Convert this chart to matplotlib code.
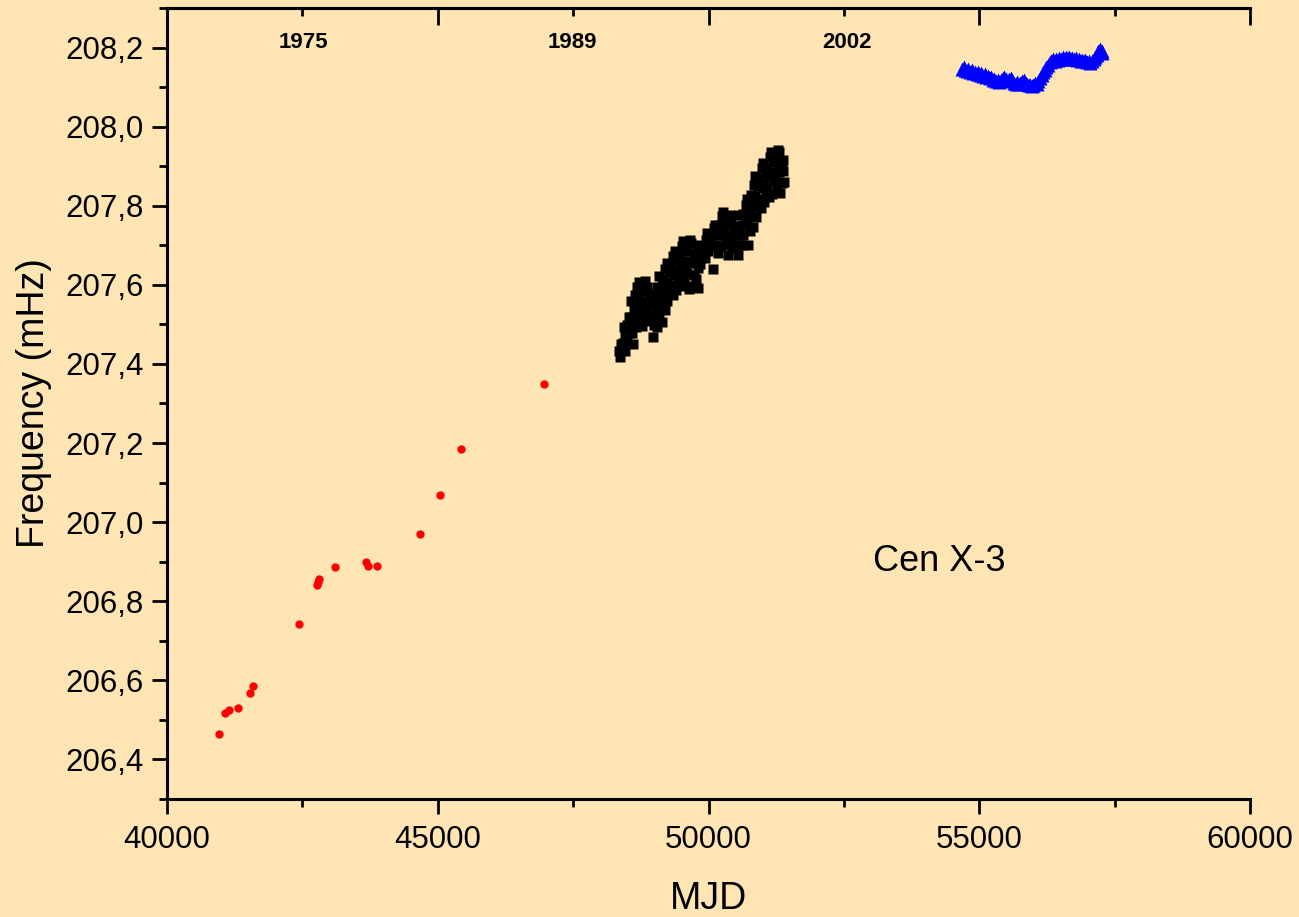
import matplotlib
matplotlib.use('Agg')
from matplotlib import pyplot as plt
from matplotlib.ticker import MultipleLocator, FuncFormatter

plt.rcParams['font.family'] = ['Liberation Sans', 'DejaVu Sans']

# historic pulse-frequency measurements (red dots)
early_mjd = [40961, 41072, 41151, 41312, 41534, 41583, 42433, 42766, 42785, 42803,
             43110, 43671, 43720, 43875, 44675, 45044, 45432, 46966]
early_freq = [206.465, 206.518, 206.524, 206.531, 206.568, 206.585, 206.742, 206.842,
              206.849, 206.857, 206.886, 206.899, 206.890, 206.890, 206.969, 207.068,
              207.184, 207.348]

# BATSE-era measurements (black squares)
batse_mjd = [
    48385, 48352, 48371,
    48431, 48466, 48418, 48459,
    48537, 48495, 48541, 48502,
    48571, 48623, 48566, 48614, 48579, 48610,
    48688, 48649, 48697, 48641, 48683, 48655,
    48721, 48771, 48715, 48762, 48727, 48779,
    48833, 48791, 48842, 48799, 48829,
    48866, 48915, 48871, 48909,
    48941, 48989, 48935, 48992, 48980,
    49057, 49011, 49063, 49019, 49052,
    49087, 49136, 49081, 49129, 49094, 49140,
    49205, 49161, 49214, 49168, 49199,
    49231, 49284, 49239, 49279, 49227,
    49352, 49307, 49361, 49311, 49349,
    49384, 49431, 49378, 49427, 49391,
    49503, 49457, 49509, 49462, 49496,
    49530, 49581, 49527, 49573, 49538,
    49652, 49606, 49645, 49611, 49640,
    49680, 49726, 49677, 49731, 49688,
    49797, 49754, 49802, 49760,
    49826, 49872, 49835, 49812,
    49948, 49903, 49941,
    49975, 50023, 49981,
    50094, 50049, 50099, 50090,
    50121, 50168, 50129, 50171,
    50241, 50196, 50247, 50203,
    50270, 50315, 50267, 50319,
    50389, 50343, 50394, 50351, 50366,
    50417, 50463, 50421, 50459,
    50537, 50491, 50541, 50550,
    50566, 50611, 50563, 50616,
    50685, 50640, 50689, 50645,
    50714, 50759, 50711, 50762, 50721,
    50833, 50789, 50837, 50784, 50826,
    50862, 50907, 50859, 50911, 50871,
    50981, 50935, 50986, 50930, 50975,
    51009, 51054, 51006, 51057, 51017,
    51128, 51083, 51131, 51079, 51122,
    51157, 51201, 51152, 51206, 51164,
    51276, 51231, 51279, 51227, 51270,
    51305, 51349, 51302, 51352, 51311,
    51384, 51370, 51392,
]
batse_freq = [
    207.451, 207.433, 207.418,
    207.494, 207.474, 207.453, 207.433,
    207.519, 207.499, 207.479, 207.459,
    207.559, 207.539, 207.519, 207.499, 207.479, 207.450,
    207.595, 207.575, 207.555, 207.534, 207.514, 207.494,
    207.607, 207.587, 207.564, 207.542, 207.519, 207.496,
    207.610, 207.585, 207.559, 207.534, 207.509,
    207.595, 207.570, 207.544, 207.519,
    207.577, 207.549, 207.524, 207.499, 207.469,
    207.595, 207.570, 207.544, 207.519, 207.494,
    207.622, 207.597, 207.572, 207.547, 207.521, 207.506,
    207.640, 207.615, 207.589, 207.564, 207.537,
    207.655, 207.632, 207.607, 207.582, 207.559,
    207.673, 207.650, 207.625, 207.600, 207.574,
    207.685, 207.663, 207.637, 207.612, 207.587,
    207.698, 207.675, 207.650, 207.625, 207.597,
    207.711, 207.685, 207.660, 207.635, 207.610,
    207.713, 207.688, 207.660, 207.630, 207.589,
    207.706, 207.680, 207.655, 207.625, 207.597,
    207.693, 207.668, 207.643, 207.615,
    207.701, 207.678, 207.653, 207.592,
    207.713, 207.690, 207.668,
    207.731, 207.708, 207.685,
    207.743, 207.721, 207.698, 207.640,
    207.751, 207.726, 207.701, 207.680,
    207.774, 207.751, 207.726, 207.698,
    207.784, 207.761, 207.736, 207.706,
    207.776, 207.751, 207.726, 207.701, 207.675,
    207.761, 207.738, 207.713, 207.693,
    207.748, 207.726, 207.701, 207.675,
    207.776, 207.751, 207.726, 207.701,
    207.802, 207.779, 207.754, 207.726,
    207.817, 207.791, 207.766, 207.736, 207.701,
    207.852, 207.827, 207.802, 207.776, 207.746,
    207.875, 207.849, 207.824, 207.799, 207.771,
    207.895, 207.870, 207.844, 207.817, 207.794,
    207.907, 207.882, 207.857, 207.832, 207.809,
    207.923, 207.897, 207.872, 207.847, 207.822,
    207.935, 207.910, 207.885, 207.861, 207.830,
    207.941, 207.915, 207.890, 207.865, 207.837,
    207.935, 207.910, 207.885, 207.857, 207.832,
    207.915, 207.887, 207.861,
]

# Fermi/GBM-era measurements (blue triangles)
gbm_mjd = [54680, 54710, 54740, 54770, 54800, 54830, 54860, 54890, 54920, 54950,
           54980, 55010, 55040, 55070, 55100, 55130, 55160, 55190, 55220, 55250,
           55280, 55310, 55340, 55370, 55400, 55430, 55460, 55490, 55520, 55550,
           55580, 55610, 55640, 55670, 55700, 55730, 55760, 55790, 55820, 55850,
           55880, 55910, 55940, 55970, 56000, 56030, 56060, 56090, 56120, 56150,
           56180, 56210, 56240, 56270, 56300, 56330, 56360, 56390, 56420, 56450,
           56480, 56510, 56540, 56570, 56600, 56630, 56660, 56690, 56720, 56750,
           56780, 56810, 56840, 56870, 56900, 56930, 56960, 56990, 57020, 57050,
           57080, 57110, 57140, 57170, 57200, 57230, 57260, 57275]
gbm_freq = [208.146, 208.150, 208.143, 208.140, 208.145, 208.138, 208.142, 208.135,
            208.139, 208.133, 208.137, 208.131, 208.136, 208.129, 208.132, 208.126,
            208.129, 208.122, 208.125, 208.118, 208.121, 208.116, 208.119, 208.114,
            208.118, 208.122, 208.126, 208.121, 208.116, 208.120, 208.124, 208.117,
            208.111, 208.108, 208.112, 208.107, 208.110, 208.115, 208.119, 208.114,
            208.108, 208.104, 208.106, 208.103, 208.105, 208.110, 208.108, 208.116,
            208.122, 208.130, 208.137, 208.144, 208.150, 208.156, 208.163, 208.167,
            208.170, 208.167, 208.171, 208.168, 208.173, 208.170, 208.175, 208.171,
            208.177, 208.173, 208.176, 208.171, 208.174, 208.170, 208.173, 208.168,
            208.171, 208.166, 208.169, 208.165, 208.168, 208.163, 208.166, 208.162,
            208.166, 208.170, 208.175, 208.182, 208.190, 208.196, 208.192, 208.186]

year_labels = ['1975', '1989', '2002']
year_mjd = [42510, 47490, 52560]

bg = '#FFE5B4'

fig = plt.figure(figsize=(12.99, 9.17), dpi=100, facecolor=bg)
ax = fig.add_axes([0.1286, 0.1287, 0.8337, 0.8626])
ax.set_facecolor(bg)

ax.plot(early_mjd, early_freq, 'o', color='red', ms=6, mec='none')
ax.plot(batse_mjd, batse_freq, 's', color='black', ms=6.7, mec='none')
ax.plot(gbm_mjd, gbm_freq, '^', color='blue', ms=10.5, mec='none')

ax.set_xlim(40000, 60000)
ax.set_ylim(206.3, 208.3)

ax.xaxis.set_major_locator(MultipleLocator(5000))
ax.xaxis.set_minor_locator(MultipleLocator(2500))
ax.yaxis.set_major_locator(MultipleLocator(0.2))
ax.yaxis.set_minor_locator(MultipleLocator(0.1))
ax.yaxis.set_major_formatter(FuncFormatter(lambda v, p: f'{v:.1f}'.replace('.', ',')))

ax.spines['right'].set_visible(False)
for side in ['left', 'bottom', 'top']:
    ax.spines[side].set_linewidth(2.2)

ax.tick_params(which='both', width=2, labelsize=22.5, top=False, right=False)
ax.tick_params(axis='x', which='both', direction='out', pad=8)
ax.tick_params(axis='y', which='both', direction='out', pad=6)
ax.tick_params(which='major', length=11)
ax.tick_params(which='minor', length=6)

# top axis: same scale, ticks pointing inward, no labels
top = ax.secondary_xaxis('top')
top.xaxis.set_major_locator(MultipleLocator(5000))
top.xaxis.set_minor_locator(MultipleLocator(2500))
top.spines['top'].set_linewidth(2.2)
top.tick_params(which='both', direction='in', width=2, labeltop=False)
top.tick_params(which='major', length=12)
top.tick_params(which='minor', length=6)

ax.set_xlabel('MJD', fontsize=27)
ax.set_ylabel('Frequency (mHz)', fontsize=27)
ax.xaxis.set_label_coords(0.5, -0.104)
ax.yaxis.set_label_coords(-0.106, 0.5)

for label, mjd in zip(year_labels, year_mjd):
    ax.text(mjd, 208.213, label, fontsize=16, fontweight='bold', ha='center', va='center')

ax.text(53030, 206.9, 'Cen X-3', fontsize=26, ha='left', va='center')

fig.savefig('out.png', dpi=100, facecolor=bg)
